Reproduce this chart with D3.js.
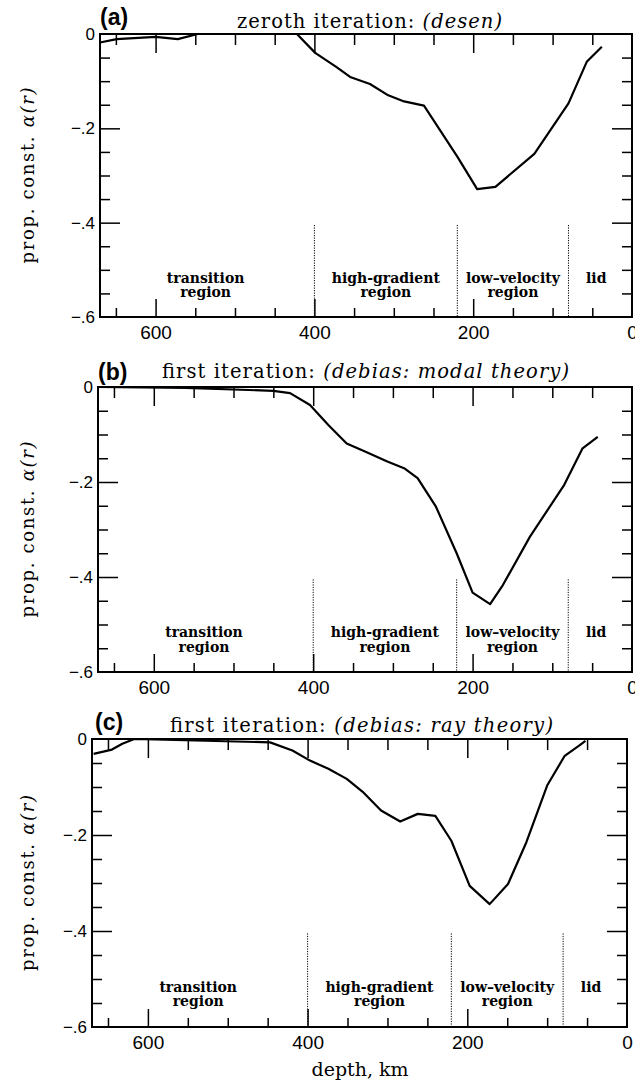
<!DOCTYPE html>
<html>
<head>
<meta charset="utf-8">
<script src="https://cdn.jsdelivr.net/npm/d3@7"></script>
<style>
    body { margin: 0; background: #fff; }
    .tick text { font-family: "Liberation Sans", Arial, sans-serif; fill: #000; }
    .tick line { stroke: #000; stroke-width: 1.5; }
    .title { font-family: "DejaVu Serif", serif; font-size: 19.5px; }
    .panel-id { font-family: "Liberation Sans", Arial, sans-serif; font-weight: bold; font-size: 23px; }
    .region { font-family: "DejaVu Serif", serif; font-weight: bold; font-size: 14px; }
    .label { font-family: "DejaVu Serif", serif; font-size: 18px; }
</style>
</head>
<body>
<script>

// Depth (km) and proportionality constant
var depthA = [670, 649, 600, 572, 547, 422, 399, 373, 355, 330, 307, 287, 262, 220, 195, 172, 123, 80, 57, 38];
var alphaA = [-0.018, -0.011, -0.006, -0.011, 0, 0, -0.04, -0.069, -0.091, -0.106, -0.13, -0.143, -0.152, -0.26, -0.329, -0.324, -0.254, -0.147, -0.059, -0.027];

var depthB = [670, 560, 450, 429, 404, 381, 358, 335, 307, 286, 269, 246, 220, 200, 178, 162, 128, 85, 62, 43];
var alphaB = [0, -0.002, -0.008, -0.013, -0.038, -0.08, -0.119, -0.136, -0.157, -0.171, -0.192, -0.252, -0.35, -0.433, -0.457, -0.417, -0.315, -0.206, -0.129, -0.105];

var depthC = [668, 645, 632, 617, 447, 419, 397, 374, 351, 331, 308, 284, 262, 240, 220, 197, 172, 149, 126, 100, 78, 60, 52];
var alphaC = [-0.031, -0.022, -0.01, 0, -0.007, -0.024, -0.045, -0.062, -0.083, -0.11, -0.149, -0.172, -0.156, -0.16, -0.212, -0.306, -0.344, -0.302, -0.215, -0.097, -0.035, -0.014, -0.004];

// Titles: upright part, italic part
var titleA = ["zeroth iteration: ", "(desen)"];
var titleB = ["first iteration: ", "(debias: modal theory)"];
var titleC = ["first iteration: ", "(debias: ray theory)"];
var panelIds = ["(a)", "(b)", "(c)"];

// Region boundaries and names
var regionBounds = [400, 220, 80];
var regionNames = [["transition", "region"], ["high-gradient", "region"], ["low\u2013velocity", "region"], ["lid"]];
var regionCenters = [537, 310, 150, 45];

// Ticks
var xMajorTicks = [600, 400, 200];
var xMinorTicks = [650, 550, 500, 450, 350, 300, 250, 150, 100, 50];
var xTickLabels = [600, 400, 200, 0];
var yMajorTicks = [-0.2, -0.4];
var yMinorTicks = [-0.05, -0.1, -0.15, -0.25, -0.3, -0.35, -0.45, -0.5, -0.55];
var yTickLabels = [0, -0.2, -0.4, -0.6];

var xDomain = [670, 0];
var yDomain = [-0.6, 0];

window.onload = function() {

    var svg = d3.select("body").append("svg")
        .attr("width", 635)
        .attr("height", 1081);

    // Layout of the three scanned panels (they sit slightly differently)
    var layout = [
        {xRange: [100, 632], yRange: [317, 34], idX: 100, idY: 25, titleX: 237, titleW: 265, titleY: 28},
        {xRange: [98, 632], yRange: [672, 387], idX: 98, idY: 380, titleX: 162, titleW: 407, titleY: 378},
        {xRange: [92, 627], yRange: [1027, 739], idX: 95, idY: 730, titleX: 170, titleW: 383, titleY: 732}
    ];
    var series = [[depthA, alphaA], [depthB, alphaB], [depthC, alphaC]];
    var titles = [titleA, titleB, titleC];

    layout.forEach(function(l, i) {
        drawPanel(svg, l, series[i][0], series[i][1], titles[i], panelIds[i]);
    });

    // Shared x label
    svg.append("text")
        .attr("class", "label")
        .attr("x", 360)
        .attr("y", 1076)
        .attr("text-anchor", "middle")
        .style("font-size", "19px")
        .text("depth, km");
};


/*
 * Draws one panel with frame, inward ticks, regions and the curve
 */

function drawPanel(svg, l, depth, alpha, title, id) {

    var xScale = d3.scaleLinear().domain(xDomain).range(l.xRange);
    var yScale = d3.scaleLinear().domain(yDomain).range(l.yRange);

    var left = l.xRange[0], right = l.xRange[1];
    var top = l.yRange[1], bottom = l.yRange[0];
    var g = svg.append("g");

    // Inward ticks on all four sides: minor then major
    var addTicks = function(axis, values, size, transform) {
        g.append("g")
            .attr("transform", transform)
            .call(axis.tickValues(values).tickSize(size).tickFormat(""))
            .call(function(s) { s.select(".domain").remove(); });
    };
    addTicks(d3.axisTop(xScale), xMinorTicks, -11, `translate(0, ${top})`);
    addTicks(d3.axisTop(xScale), xMajorTicks, -19, `translate(0, ${top})`);
    addTicks(d3.axisBottom(xScale), xMinorTicks, -9, `translate(0, ${bottom})`);
    addTicks(d3.axisBottom(xScale), xMajorTicks, -18, `translate(0, ${bottom})`);
    addTicks(d3.axisLeft(yScale), yMinorTicks, -10, `translate(${left}, 0)`);
    addTicks(d3.axisLeft(yScale), yMajorTicks, -20, `translate(${left}, 0)`);
    addTicks(d3.axisRight(yScale), yMinorTicks, -10, `translate(${right}, 0)`);
    addTicks(d3.axisRight(yScale), yMajorTicks, -20, `translate(${right}, 0)`);

    // Tick labels
    g.append("g")
        .attr("transform", `translate(0, ${bottom})`)
        .call(d3.axisBottom(xScale).tickValues(xTickLabels).tickSize(0).tickPadding(9))
        .call(function(s) { s.select(".domain").remove(); })
        .selectAll("text").style("font-size", "19px");

    g.append("g")
        .attr("transform", `translate(${left}, 0)`)
        .call(d3.axisLeft(yScale).tickValues(yTickLabels).tickSize(0).tickPadding(5)
            .tickFormat(function(d) { return d == 0 ? "0" : "\u2212" + d3.format(".1f")(-d).replace(/^0/, ""); }))
        .call(function(s) { s.select(".domain").remove(); })
        .selectAll("text").style("font-size", "17px");

    // Frame
    g.append("rect")
        .attr("x", left)
        .attr("y", top)
        .attr("width", right - left)
        .attr("height", bottom - top)
        .attr("fill", "none")
        .attr("stroke", "#000")
        .attr("stroke-width", 2);

    // Region dividers
    g.selectAll(".divider")
        .data(regionBounds)
        .enter()
        .append("line")
        .attr("x1", function(d) { return xScale(d); })
        .attr("x2", function(d) { return xScale(d); })
        .attr("y1", yScale(-0.405))
        .attr("y2", bottom)
        .attr("stroke", "#000")
        .attr("stroke-width", 1)
        .attr("stroke-dasharray", "1.2,1.3");

    // Region names
    regionNames.forEach(function(lines, k) {
        lines.forEach(function(txt, j) {
            g.append("text")
                .attr("class", "region")
                .attr("x", xScale(regionCenters[k]))
                .attr("y", yScale(j == 0 ? -0.527 : -0.557))
                .attr("text-anchor", "middle")
                .text(txt);
        });
    });

    // Curve
    var line = d3.line()
        .x(function(d) { return xScale(d[0]); })
        .y(function(d) { return yScale(d[1]); });

    g.append("path")
        .datum(d3.zip(depth, alpha))
        .attr("d", line)
        .attr("fill", "none")
        .attr("stroke", "#000")
        .attr("stroke-width", 2.2)
        .attr("stroke-linejoin", "round");

    // Panel letter
    g.append("text")
        .attr("class", "panel-id")
        .attr("x", l.idX)
        .attr("y", l.idY)
        .text(id);

    // Title
    var t = g.append("text")
        .attr("class", "title")
        .attr("x", l.titleX)
        .attr("y", l.titleY)
        .attr("textLength", l.titleW)
        .attr("lengthAdjust", "spacing");
    t.append("tspan").text(title[0]);
    t.append("tspan").style("font-style", "italic").text(title[1]);

    // y label
    g.append("text")
        .attr("class", "label")
        .attr("transform", `translate(34, ${(top + bottom) / 2}) rotate(-90)`)
        .attr("text-anchor", "middle")
        .attr("textLength", 176)
        .attr("lengthAdjust", "spacing")
        .html('prop. const. <tspan font-style="italic">\u03b1(r)</tspan>');
};

</script>
</body>
</html>
